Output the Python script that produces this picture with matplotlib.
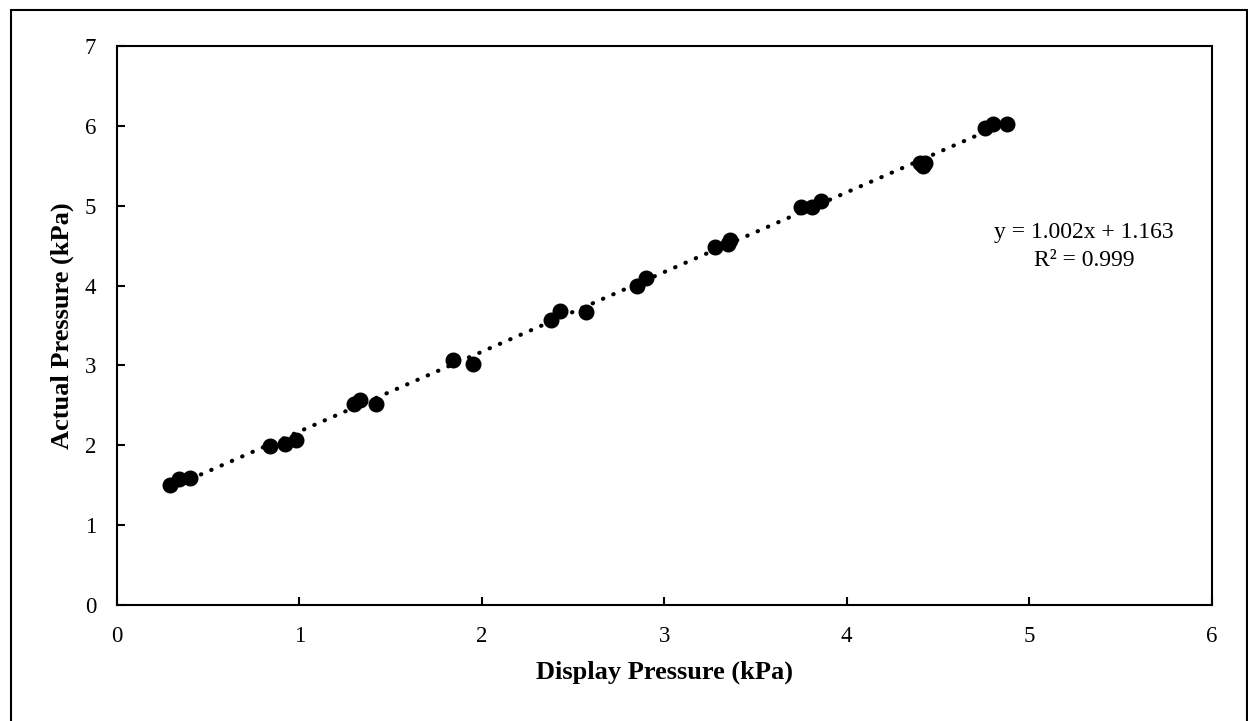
import numpy as np
import matplotlib.pyplot as plt
import matplotlib.patches as mpatches

plt.rcParams['font.family'] = ['Liberation Serif', 'DejaVu Serif']

# readings taken off the chart
display_p = [0.29, 0.34, 0.40, 0.84, 0.92, 0.98, 1.30, 1.33, 1.42,
             1.84, 1.95, 2.38, 2.43, 2.57, 2.85, 2.90, 3.28, 3.35, 3.36,
             3.75, 3.81, 3.86, 4.40, 4.42, 4.43, 4.76, 4.80, 4.88]
actual_p = [1.50, 1.58, 1.59, 1.99, 2.01, 2.07, 2.52, 2.57, 2.52,
            3.07, 3.02, 3.57, 3.68, 3.67, 3.99, 4.09, 4.49, 4.52, 4.57,
            4.98, 4.99, 5.06, 5.53, 5.50, 5.53, 5.97, 6.02, 6.03]
eq_text = 'y = 1.002x + 1.163'
r2_text = 'R² = 0.999'

fig = plt.figure(figsize=(12.48, 7.21), dpi=100)
ax = fig.add_axes([0.0938, 0.161, 0.877, 0.775])

# outer frame round the whole chart (bottom is cut off in the original)
fig.patches.append(mpatches.Rectangle((0.0088, -0.02), 0.9905, 1.006, transform=fig.transFigure,
                                      fill=False, edgecolor='black', linewidth=1.5))

# trendline
slope, icpt = np.polyfit(display_p, actual_p, 1)
xs = np.array([min(display_p), max(display_p)])
ax.plot(xs, slope * xs + icpt, color='black', linestyle=(0, (0.1, 2.6)),
        linewidth=3, dash_capstyle='round', zorder=2)

ax.plot(display_p, actual_p, 'o', color='black', markersize=10.5, zorder=3)

ax.text(5.30, 4.67, eq_text, ha='center', va='center', fontsize=17)
ax.text(5.30, 4.32, r2_text, ha='center', va='center', fontsize=17)

ax.set_xlim(0, 6)
ax.set_ylim(0, 7)
ax.set_xticks(range(0, 7))
ax.set_yticks(range(0, 8))
ax.tick_params(direction='in', length=6, width=1.5, labelsize=16.5, pad=15)
for s in ax.spines.values():
    s.set_linewidth(1.5)

ax.set_xlabel('Display Pressure (kPa)', fontsize=19, fontweight='bold', labelpad=10)
ax.set_ylabel('Actual Pressure (kPa)', fontsize=19, fontweight='bold', labelpad=8)

fig.savefig('out.png', dpi=100)
